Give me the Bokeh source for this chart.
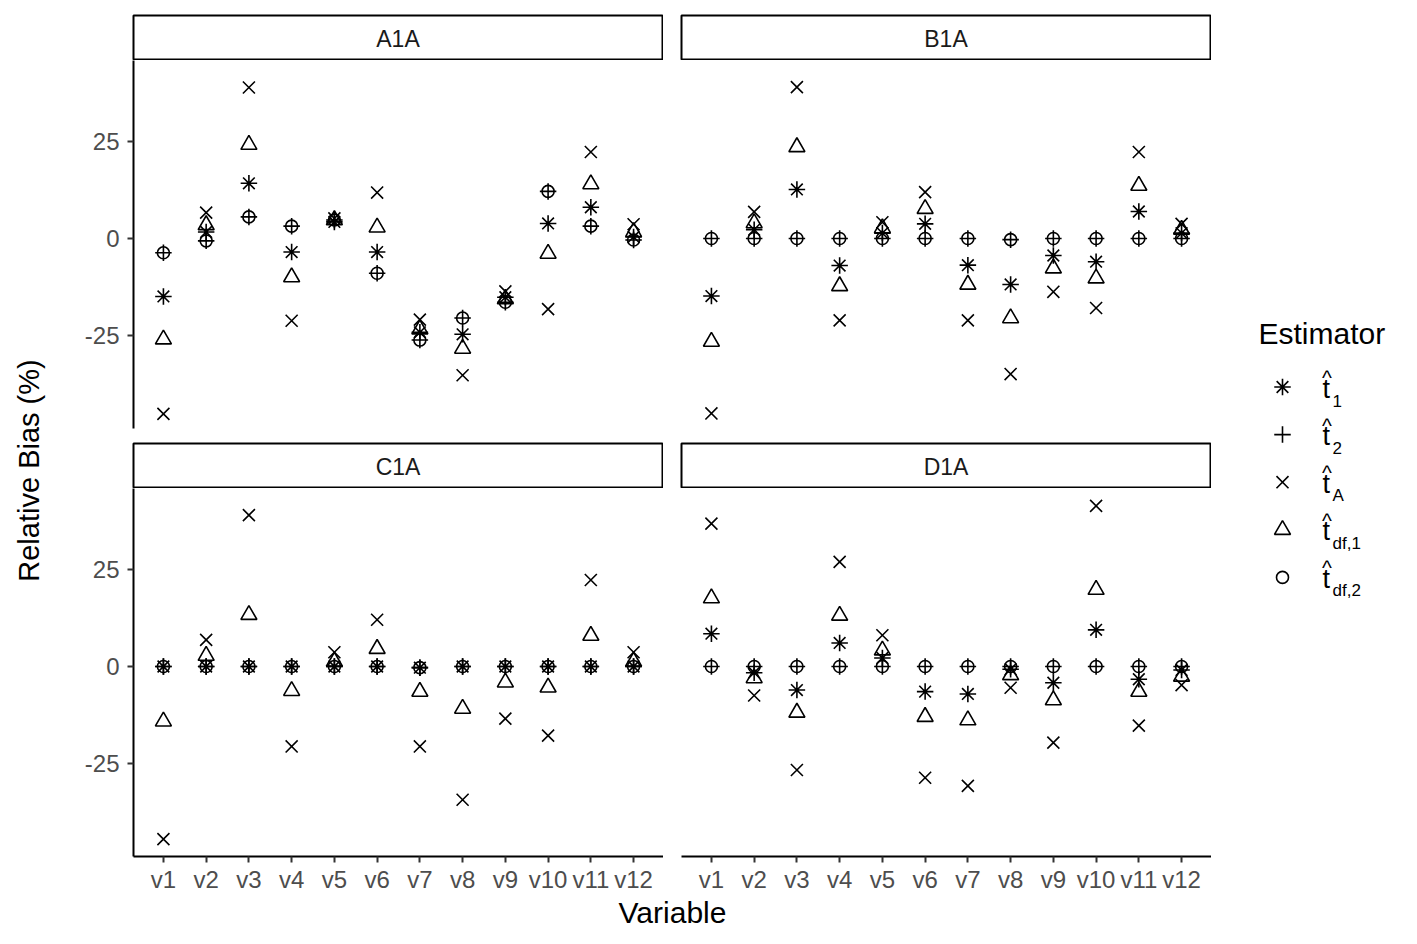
import math
from bokeh.plotting import figure
from bokeh.layouts import row, column
from bokeh.models import Range1d, FactorRange, FixedTicker, Label
from bokeh.embed import file_html
from bokeh.resources import INLINE

FONT = "Liberation Sans"

# ---------------- data ----------------
variables = ["v1", "v2", "v3", "v4", "v5", "v6", "v7", "v8", "v9", "v10", "v11", "v12"]
panel_names = ["A1A", "B1A", "C1A", "D1A"]
estimator_subs = ["1", "2", "A", "df,1", "df,2"]

A1A_t1 = [-15.0, 1.7, 14.3, -3.5, 4.3, -3.5, -24.3, -24.8, -15.2, 3.9, 8.1, 0.4]
A1A_t2 = [-3.7, -0.6, 5.6, 3.2, 4.8, -9.0, -26.3, -20.6, -16.5, 12.2, 3.2, -0.4]
A1A_tA = [-45.4, 6.7, 39.1, -21.3, 5.2, 11.9, -21.0, -35.4, -13.7, -18.3, 22.4, 3.7]
A1A_tdf1 = [-26.1, 3.5, 24.3, -10.0, 4.8, 2.9, -23.5, -28.5, -15.7, -3.9, 14.1, 1.7]
A1A_tdf2 = [-3.7, -0.6, 5.6, 3.2, 4.8, -9.0, -26.3, -20.6, -16.5, 12.2, 3.2, -0.4]

B1A_t1 = [-14.9, 2.3, 12.7, -7.0, 1.4, 3.8, -6.9, -11.9, -4.4, -6.0, 7.0, 1.4]
B1A_t2 = [0.0, 0.0, 0.0, 0.0, 0.0, 0.0, 0.0, -0.3, 0.0, 0.0, 0.0, 0.0]
B1A_tA = [-45.3, 6.9, 39.2, -21.2, 4.2, 12.0, -21.2, -35.1, -13.8, -18.0, 22.4, 3.8]
B1A_tdf1 = [-26.7, 4.0, 23.7, -12.3, 2.7, 7.7, -11.9, -20.6, -7.7, -10.3, 13.7, 2.3]
B1A_tdf2 = [0.0, 0.0, 0.0, 0.0, 0.0, 0.0, 0.0, -0.3, 0.0, 0.0, 0.0, 0.0]

C1A_t1 = [0.0, 0.0, 0.0, 0.0, 0.0, 0.0, -0.3, 0.0, 0.0, 0.0, 0.0, 0.0]
C1A_t2 = [0.0, 0.0, 0.0, 0.0, 0.0, 0.0, -0.3, 0.0, 0.0, 0.0, 0.0, 0.0]
C1A_tA = [-44.7, 6.9, 39.2, -20.7, 3.7, 12.1, -20.7, -34.5, -13.5, -17.9, 22.4, 3.7]
C1A_tdf1 = [-14.2, 2.8, 13.4, -6.3, 1.3, 4.6, -6.5, -10.9, -4.1, -5.4, 8.0, 1.3]
C1A_tdf2 = [0.0, 0.0, 0.0, 0.0, 0.0, 0.0, -0.3, 0.0, 0.0, 0.0, 0.0, 0.0]

D1A_t1 = [8.5, -1.6, -6.1, 6.1, 2.2, -6.5, -7.1, -0.7, -4.2, 9.5, -3.3, -0.9]
D1A_t2 = [0.0, 0.0, 0.0, 0.0, 0.0, 0.0, 0.0, 0.0, 0.0, 0.0, 0.0, 0.0]
D1A_tA = [37.0, -7.5, -26.8, 27.1, 8.1, -28.8, -30.9, -5.5, -19.7, 41.6, -15.3, -4.8]
D1A_tdf1 = [17.7, -3.0, -11.9, 13.2, 4.2, -13.0, -13.9, -2.2, -8.7, 19.9, -6.5, -2.6]
D1A_tdf2 = [0.0, 0.0, 0.0, 0.0, 0.0, 0.0, 0.0, 0.0, 0.0, 0.0, 0.0, 0.0]

panel_data = {
    "A1A": [A1A_t1, A1A_t2, A1A_tA, A1A_tdf1, A1A_tdf2],
    "B1A": [B1A_t1, B1A_t2, B1A_tA, B1A_tdf1, B1A_tdf2],
    "C1A": [C1A_t1, C1A_t2, C1A_tA, C1A_tdf1, C1A_tdf2],
    "D1A": [D1A_t1, D1A_t2, D1A_tA, D1A_tdf1, D1A_tdf2],
}
y_ticks = [-25, 0, 25]

# ---------------- styles ----------------
markers = ["asterisk", "cross", "x", "triangle", "circle"]
marker_sizes = [16.5, 16.5, 17, 16, 12]
LW = 1.6
Y_START, Y_END = -49.2, 46.1
FW, FH = 530, 368


def blank(width, height, xr, yr):
    p = figure(width=width, height=height, x_range=xr, y_range=yr,
               x_axis_location=None, y_axis_location=None,
               toolbar_location=None, output_backend="svg",
               min_border=0, min_border_left=0, min_border_right=0,
               min_border_top=0, min_border_bottom=0,
               background_fill_color="white", border_fill_color="white",
               outline_line_color=None)
    p.grid.visible = False
    return p


def panel(name, left_axis, bottom_axis, border_left, border_bottom):
    p = figure(x_range=FactorRange(factors=variables, range_padding=0.2,
                                   range_padding_units="absolute"),
               y_range=Range1d(Y_START, Y_END),
               frame_width=FW, frame_height=FH,
               min_border_left=border_left, min_border_right=0,
               min_border_top=0, min_border_bottom=border_bottom,
               x_axis_location="below" if bottom_axis else None,
               y_axis_location="left" if left_axis else None,
               toolbar_location=None, output_backend="svg",
               background_fill_color="white", border_fill_color="white",
               outline_line_color=None)
    p.grid.visible = False
    axes = []
    if left_axis:
        ax = p.yaxis[0]
        ax.ticker = FixedTicker(ticks=y_ticks)
        ax.major_label_overrides = {t: str(t) for t in y_ticks}
        ax.major_label_standoff = 8
        axes.append(ax)
    if bottom_axis:
        ax = p.xaxis[0]
        ax.major_label_standoff = 3
        axes.append(ax)
    for ax in axes:
        ax.axis_line_color = "black"
        ax.axis_line_width = 2
        ax.major_tick_line_color = "#333333"
        ax.major_tick_line_width = 2
        ax.major_tick_out = 6
        ax.major_tick_in = 0
        ax.minor_tick_line_color = None
        ax.major_label_text_font = FONT
        ax.major_label_text_font_size = "24px"
        ax.major_label_text_color = "#4D4D4D"
    for vals, mk, sz in zip(panel_data[name], markers, marker_sizes):
        p.scatter(x=variables, y=vals, marker=mk, size=sz,
                  line_color="black", line_width=LW, fill_color=None)
    return p


def strip(name, border_left, border_top):
    s = figure(x_range=Range1d(0, 1), y_range=Range1d(0, 1),
               frame_width=FW - 1, frame_height=44,
               min_border_left=border_left, min_border_right=1,
               min_border_top=border_top, min_border_bottom=1,
               x_axis_location=None, y_axis_location=None,
               toolbar_location=None, output_backend="svg",
               background_fill_color="white", border_fill_color="white",
               outline_line_color="black", outline_line_width=2)
    s.grid.visible = False
    s.add_layout(Label(x=0.5, y=0.47, text=name, text_align="center",
                       text_baseline="middle", text_font=FONT,
                       text_font_size="23px", text_color="#1A1A1A"))
    return s


def mid_label(x, y, text, size, align="left", angle=0.0):
    return Label(x=x, y=y, text=text, text_align=align, text_baseline="middle",
                 angle=angle, text_font=FONT, text_font_size=size,
                 text_color="black")


# ---------------- panels ----------------
sA = strip("A1A", 73, 15)
pA = panel("A1A", True, False, 73, 14)
sC = strip("C1A", 73, 1)
pC = panel("C1A", True, True, 73, 40)

sB = strip("B1A", 18, 15)
pB = panel("B1A", False, False, 18, 14)
sD = strip("D1A", 18, 1)
pD = panel("D1A", False, True, 18, 40)

left_col = column(sA, pA, sC, pC, spacing=0)
right_col = column(sB, pB, sD, pD, spacing=0)

# ---------------- y-axis title ----------------
yt = blank(60, 896, Range1d(0, 60), Range1d(896, 0))
yt.add_layout(mid_label(28, 470, "Relative Bias (%)", "29px", "center", math.pi / 2))

# ---------------- legend ----------------
lg = blank(198, 896, Range1d(1211, 1409), Range1d(896, 0))
lg.add_layout(mid_label(1258, 333, "Estimator", "30px"))
LEG_Y0, LEG_STEP, KEY_X, TX = 386.5, 47.6, 1282, 1322
for i, (mk, sz, sub) in enumerate(zip(markers, marker_sizes, estimator_subs)):
    yy = LEG_Y0 + i * LEG_STEP
    lg.scatter(x=[KEY_X], y=[yy], marker=mk, size=sz, line_color="black",
               line_width=LW, fill_color=None)
    lg.add_layout(mid_label(TX, yy + 1.5, "t", "27px"))
    lg.add_layout(mid_label(TX + 4.5, yy - 9.5, "^", "21px", "center"))
    lg.add_layout(mid_label(TX + 10, yy + 13.5, sub, "17px"))

# ---------------- x-axis title ----------------
xt = blank(1409, 46, Range1d(0, 1409), Range1d(942, 896))
xt.add_layout(mid_label(672, 912, "Variable", "30px", "center"))

layout = column(row(yt, left_col, right_col, lg, spacing=0), xt, spacing=0)

open("out.html", "w").write(file_html(layout, INLINE))
